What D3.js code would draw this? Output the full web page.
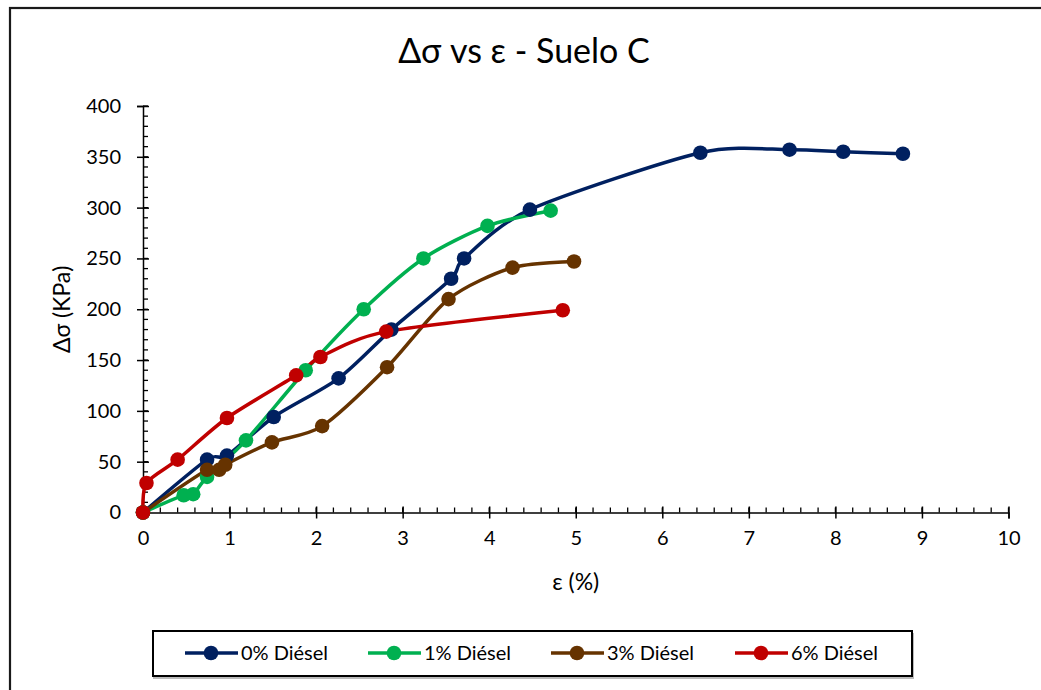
<!DOCTYPE html>
<html>
<head>
<meta charset="utf-8">
<script src="https://cdn.jsdelivr.net/npm/d3@7"></script>
<style>
  html, body { margin: 0; padding: 0; background: #fff; }
  svg { display: block; }
  text { font-family: Lato, "Open Sans", sans-serif; fill: #000; }
</style>
</head>
<body>
<svg id="chart" width="1041" height="690"></svg>
<script>
// Strain ε (%) and deviator stress Δσ (KPa) for each diesel content
const strain0 = [0, 0.74, 0.97, 1.51, 2.26, 2.87, 3.56, 3.71, 4.47, 6.44, 7.47, 8.09, 8.78];
const stress0 = [0, 52, 56, 94, 132, 180, 230, 250, 298, 354, 357, 355, 353];

const strain1 = [0, 0.47, 0.58, 0.74, 1.19, 1.88, 2.55, 3.24, 3.98, 4.71];
const stress1 = [0, 17, 18, 35, 71, 140, 200, 250, 282, 297];

const strain3 = [0, 0.74, 0.88, 0.95, 1.49, 2.07, 2.82, 3.53, 4.27, 4.98];
const stress3 = [0, 42, 42, 47, 69, 85, 143, 210, 241, 247];

const strain6 = [0, 0.04, 0.40, 0.97, 1.77, 2.05, 2.81, 4.85];
const stress6 = [0, 29, 52, 93, 135, 153, 178, 199];

const seriesNames = ["0% Diésel", "1% Diésel", "3% Diésel", "6% Diésel"];
const seriesColors = ["#002060", "#00B050", "#663300", "#C00000"];

const xTicks = [0, 1, 2, 3, 4, 5, 6, 7, 8, 9, 10];
const yTicks = [0, 50, 100, 150, 200, 250, 300, 350, 400];

const series = [
  { name: seriesNames[0], color: seriesColors[0], xs: strain0, ys: stress0 },
  { name: seriesNames[1], color: seriesColors[1], xs: strain1, ys: stress1 },
  { name: seriesNames[2], color: seriesColors[2], xs: strain3, ys: stress3 },
  { name: seriesNames[3], color: seriesColors[3], xs: strain6, ys: stress6 }
];

const svg = d3.select("#chart");

// chart frame
svg.append("rect")
  .attr("x", 10).attr("y", 8)
  .attr("width", 1200).attr("height", 900)
  .attr("fill", "#fff")
  .attr("stroke", "#1a1a1a").attr("stroke-width", 2.2);

const x = d3.scaleLinear().domain([0, 10]).range([143, 1008.5]);
const y = d3.scaleLinear().domain([0, 400]).range([512.5, 106]);

// title
svg.append("text")
  .attr("x", 524).attr("y", 63)
  .attr("text-anchor", "middle")
  .style("font-size", "34px")
  .text("Δσ vs ε - Suelo C");

// minor ticks (inside the plot)
const yMinor = d3.range(0, 401, 10);
svg.append("g").selectAll("line").data(yMinor).join("line")
  .attr("x1", x(0)).attr("x2", x(0) + 5)
  .attr("y1", d => y(d)).attr("y2", d => y(d))
  .attr("stroke", "#000").attr("stroke-width", 1.3);
const xMinor = d3.range(0, 50.5, 1).map(d => d / 5);
svg.append("g").selectAll("line").data(xMinor).join("line")
  .attr("x1", d => x(d)).attr("x2", d => x(d))
  .attr("y1", y(0)).attr("y2", y(0) - 5)
  .attr("stroke", "#000").attr("stroke-width", 1.3);

// axes: major ticks cross the axis line
const yAxis = d3.axisLeft(y).tickValues(yTicks).tickSize(6).tickPadding(16).tickFormat(d3.format("d"));
const gy = svg.append("g").attr("transform", `translate(${x(0)},0)`).call(yAxis);
gy.select(".domain").attr("stroke", "#000").attr("stroke-width", 1.5);
gy.selectAll(".tick line").attr("x2", 6).attr("x1", -6).attr("stroke", "#000").attr("stroke-width", 1.5);
gy.selectAll(".tick text").style("font-size", "20px").attr("font-family", "Lato, sans-serif").attr("fill", "#000");

const xAxis = d3.axisBottom(x).tickValues(xTicks).tickSize(6).tickPadding(12).tickFormat(d3.format("d"));
const gx = svg.append("g").attr("transform", `translate(0,${y(0)})`).call(xAxis);
gx.select(".domain").attr("stroke", "#000").attr("stroke-width", 1.5);
gx.selectAll(".tick line").attr("y1", -6).attr("y2", 6).attr("stroke", "#000").attr("stroke-width", 1.5);
gx.selectAll(".tick text").style("font-size", "20px").attr("font-family", "Lato, sans-serif").attr("fill", "#000");

// axis titles
svg.append("text")
  .attr("x", x(5)).attr("y", 590)
  .attr("text-anchor", "middle")
  .style("font-size", "23px")
  .text("ε (%)");
svg.append("text")
  .attr("transform", `translate(70,${y(200)}) rotate(-90)`)
  .attr("text-anchor", "middle")
  .style("font-size", "23px")
  .text("Δσ (KPa)");

// smoothed series lines with markers
const line = d3.line()
  .x(d => x(d[0])).y(d => y(d[1]))
  .curve(d3.curveCardinal.tension(0.2));

const gSeries = svg.append("g");
series.forEach(s => {
  const pts = s.xs.map((v, i) => [v, s.ys[i]]);
  gSeries.append("path")
    .datum(pts)
    .attr("d", line)
    .attr("fill", "none")
    .attr("stroke", s.color)
    .attr("stroke-width", 3.5)
    .attr("stroke-linejoin", "round");
});
series.forEach(s => {
  const pts = s.xs.map((v, i) => [v, s.ys[i]]);
  gSeries.append("g").selectAll("circle").data(pts).join("circle")
    .attr("cx", d => x(d[0])).attr("cy", d => y(d[1]))
    .attr("r", 7.3)
    .attr("fill", s.color);
});

// legend
const legend = svg.append("g");
legend.append("rect")
  .attr("x", 153).attr("y", 633)
  .attr("width", 759).attr("height", 44)
  .attr("fill", "none")
  .attr("stroke", "#bbb").attr("stroke-width", 2)
  .attr("transform", "translate(1,1)");
legend.append("rect")
  .attr("x", 153).attr("y", 631)
  .attr("width", 759).attr("height", 45)
  .attr("fill", "#fff")
  .attr("stroke", "#000").attr("stroke-width", 2);

const legendX = [185, 368, 551, 735];
series.forEach((s, i) => {
  const g = legend.append("g").attr("transform", `translate(${legendX[i]},653)`);
  g.append("line").attr("x1", 0).attr("x2", 53).attr("y1", 0).attr("y2", 0)
    .attr("stroke", s.color).attr("stroke-width", 3.5);
  g.append("circle").attr("cx", 26).attr("cy", 0).attr("r", 7.3).attr("fill", s.color);
  g.append("text").attr("x", 56).attr("y", 0).attr("dy", "0.35em")
    .style("font-size", "20px").text(s.name);
});
</script>
</body>
</html>
